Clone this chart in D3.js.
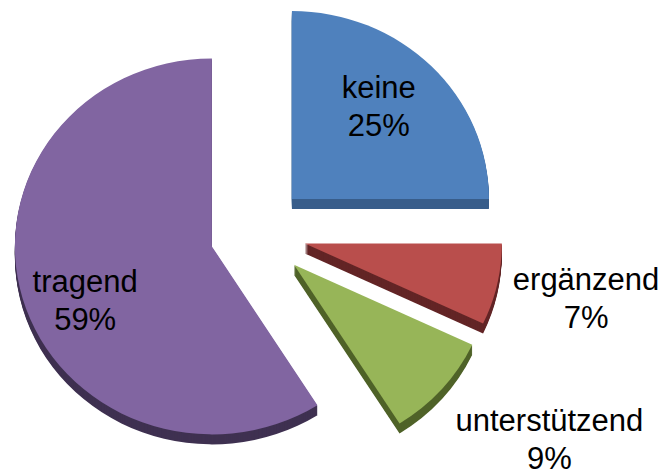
<!DOCTYPE html>
<html>
<head>
<meta charset="utf-8">
<script src="https://cdn.jsdelivr.net/npm/d3@7"></script>
<style>
  body { margin: 0; background: #fff; }
  svg { display: block; }
  text { font-family: "Liberation Sans", Arial, sans-serif; fill: #000; }
</style>
</head>
<body>
<svg id="chart" width="665" height="471"></svg>
<script>
const categories = ['keine', 'ergänzend', 'unterstützend', 'tragend'];
const values = [25, 7, 9, 59];
const topColors = ['#4f81bd', '#b94e4c', '#97b558', '#8165a1'];
const sideColors = ['#385d8a', '#632526', '#4f6228', '#3f3151'];

// label placement: radius as share of pie radius, angle shift in degrees
const labelLayout = {
  'keine': { r: 0.62, shift: 0.3 },
  'ergänzend': { r: 1.47, shift: 1.2 },
  'unterstützend': { r: 1.63, shift: -4.1 },
  'tragend': { r: 0.73, shift: -12 },
};

const cx = 258;
const cy = 233;
const rx = 197;
const ry = 188;
const explode = 48;
const depth = 10;
const squash = ry / rx;

const data = categories.map((c, i) => ({
  name: c,
  value: values[i],
  top: topColors[i],
  side: sideColors[i],
}));

const pie = d3.pie().sort(null).value(d => d.value);
const arc = d3.arc().innerRadius(0).outerRadius(rx);

const svg = d3.select('#chart');

const slices = svg.selectAll('g.slice')
  .data(pie(data))
  .enter().append('g')
    .attr('class', 'slice')
    .attr('transform', (d) => {
      const mid = (d.startAngle + d.endAngle) / 2;
      d.ox = cx + explode * Math.sin(mid);
      d.oy = cy - explode * Math.cos(mid);
      return `translate(${d.ox},${d.oy})`;
    });

// side: stack copies of the slice downwards
slices.each(function (d) {
  const g = d3.select(this);
  const steps = d3.range(depth, 0, -1);
  g.selectAll('path.side')
    .data(steps)
    .enter().append('path')
      .attr('class', 'side')
      .attr('d', arc(d))
      .attr('transform', k => `translate(0,${k}) scale(1,${squash})`)
      .style('fill', d.data.side);

  g.append('path')
    .attr('class', 'top')
    .attr('d', arc(d))
    .attr('transform', `scale(1,${squash})`)
    .style('fill', d.data.top);
});

// labels
const labels = svg.selectAll('text.label')
  .data(pie(data))
  .enter().append('text')
    .attr('class', 'label')
    .attr('text-anchor', 'middle')
    .style('font-size', '31px')
    .each(function (d) {
      const lay = labelLayout[d.data.name];
      const mid = (d.startAngle + d.endAngle) / 2;
      const a = mid + lay.shift * Math.PI / 180;
      const ox = cx + explode * Math.sin(mid);
      const oy = cy - explode * Math.cos(mid);
      const x = ox + lay.r * rx * Math.sin(a);
      const y = oy - lay.r * ry * Math.cos(a);
      const t = d3.select(this);
      t.append('tspan').attr('x', x).attr('y', y - 19).text(d.data.name);
      t.append('tspan').attr('x', x).attr('y', y + 19).text(`${d.data.value}%`);
    });
</script>
</body>
</html>
